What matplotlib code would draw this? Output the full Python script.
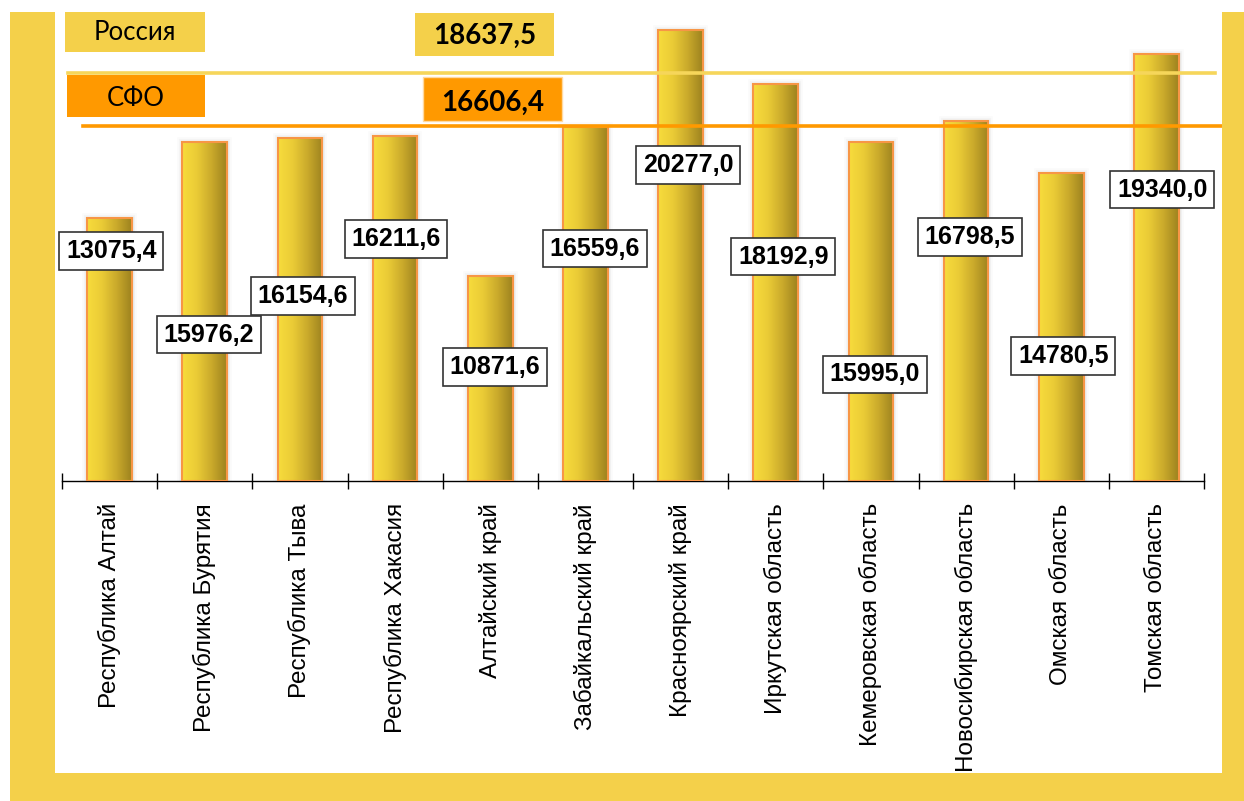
import numpy as np
import matplotlib
matplotlib.use("Agg")
import matplotlib.pyplot as plt
from matplotlib.colors import LinearSegmentedColormap
from matplotlib.patches import Rectangle

# ---- data -------------------------------------------------------------
regions = [
    "Республика Алтай", "Республика Бурятия", "Республика Тыва",
    "Республика Хакасия", "Алтайский край", "Забайкальский край",
    "Красноярский край", "Иркутская область", "Кемеровская область",
    "Новосибирская область", "Омская область", "Томская область",
]
values = [13075.4, 15976.2, 16154.6, 16211.6, 10871.6, 16559.6,
          20277.0, 18192.9, 15995.0, 16798.5, 14780.5, 19340.0]
russia_label = "Россия"
russia_value = 18637.5
sfo_label = "СФО"
sfo_value = 16606.4

# ---- layout: where each value box sits (data y, x shift in category units)
label_y = [11811, 8605, 10087, 12271, 7367, 11899,
           15105, 11593, 7080, 12347, 7789, 14159]
label_dx = [0.02, 0.04, 0.03, 0.01, 0.05, 0.10,
            0.08, 0.08, 0.04, 0.04, 0.02, 0.06]


def fmt(v):
    return f"{v:.1f}".replace(".", ",")


W, H = 1244, 801
fig = plt.figure(figsize=(W / 100, H / 100), dpi=100)
fig.patch.set_facecolor("white")


def fx(px):
    return px / W


def fy(py):
    return 1 - py / H


YELLOW = "#F4D04A"
ORANGE = "#FF9900"

y_base, y_top = 3000, 21000
ax = fig.add_axes([fx(62), fy(481), fx(1204) - fx(62), (481 - 11.1) / H])
ax.set_facecolor("none")

x = np.arange(len(regions))
heights = np.array(values) - y_base
width = 0.47

# soft grey shadow around the columns
for lw, a in [(7.0, 0.025), (4.5, 0.04), (2.5, 0.06)]:
    ax.bar(x, heights, width, bottom=y_base, facecolor="none",
           edgecolor=(0.35, 0.35, 0.35, a), linewidth=lw, zorder=1)

bars = ax.bar(x, heights, width, bottom=y_base, facecolor="none",
              edgecolor="#F79646", linewidth=1.5, zorder=3)

gold = LinearSegmentedColormap.from_list(
    "gold", ["#F8DC3C", "#EACB36", "#C9A92B", "#9C821F"])
grad = np.linspace(0, 1, 256).reshape(1, -1)
for b in bars:
    x0, y0, w, h = b.get_x(), b.get_y(), b.get_width(), b.get_height()
    im = ax.imshow(grad, cmap=gold, extent=[x0, x0 + w, y0, y0 + h],
                   aspect="auto", zorder=2, interpolation="bilinear")
    im.set_clip_path(b)

ax.set_xlim(-0.5, len(regions) - 0.5)
ax.set_ylim(y_base, y_top)

# reference levels
ax.axhline(russia_value, xmin=(68 - 62) / 1142, xmax=(1215 - 62) / 1142,
           color="#F6D65A", lw=2.6, clip_on=False, zorder=4)
ax.axhline(sfo_value, xmin=(83 - 62) / 1142, xmax=(1222 - 62) / 1142,
           color=ORANGE, lw=2.6, clip_on=False, zorder=4)

# value boxes
for i, v in enumerate(values):
    ax.text(x[i] + label_dx[i], label_y[i], fmt(v), ha="center", va="center",
            fontsize=18, fontweight="bold", family="Liberation Sans",
            zorder=6,
            bbox=dict(boxstyle="square,pad=0.27", fc="white", ec="#333333",
                      lw=1.2))

# axes styling
for s in ("left", "top", "right"):
    ax.spines[s].set_visible(False)
ax.spines["bottom"].set_linewidth(1.0)
ax.spines["bottom"].set_color("black")
ax.set_yticks([])
ax.set_xticks(np.arange(-0.5, len(regions), 1))
ax.set_xticklabels([])
ax.set_xticks(x, minor=True)
ax.set_xticklabels(regions, minor=True, rotation=90, fontsize=17.5,
                   family="Liberation Sans")
ax.tick_params(axis="x", which="major", direction="inout", length=11,
               width=1.0, color="black")
ax.tick_params(axis="x", which="minor", length=0, pad=16)


# legend-style boxes at the top
def fig_box(x0, y0, x1, y1, color, text, text_dy=0, ec="none", **kw):
    r = Rectangle((fx(x0), fy(y1)), fx(x1) - fx(x0), fy(y0) - fy(y1),
                  transform=fig.transFigure, facecolor=color, edgecolor=ec,
                  lw=1.0, zorder=10)
    fig.add_artist(r)
    fig.text(fx((x0 + x1) / 2), fy((y0 + y1) / 2 + text_dy), text,
             ha="center", va="center", zorder=11, **kw)


fig_box(65, 12, 205, 52, YELLOW, russia_label, text_dy=1,
        fontsize=18.5, family="Lato")
fig_box(415, 13, 554, 56, YELLOW, fmt(russia_value), text_dy=1,
        fontsize=20, fontweight="bold", family="Lato")
fig_box(67, 75, 205, 117, ORANGE, sfo_label, text_dy=2,
        fontsize=18.5, family="Lato")
fig_box(423, 77, 562, 121, ORANGE, fmt(sfo_value), text_dy=4,
        ec="#FFD9A0", fontsize=20, fontweight="bold", family="Lato")

# yellow frame around the chart
for (x0, y0, x1, y1) in [(10, 12, 55, 801), (10, 773, 1244, 801),
                         (1222, 12, 1244, 801)]:
    fig.add_artist(Rectangle((fx(x0), fy(y1)), fx(x1) - fx(x0),
                             fy(y0) - fy(y1), transform=fig.transFigure,
                             facecolor=YELLOW, edgecolor="none", zorder=20))

fig.savefig("out.png", dpi=100, facecolor="white")
